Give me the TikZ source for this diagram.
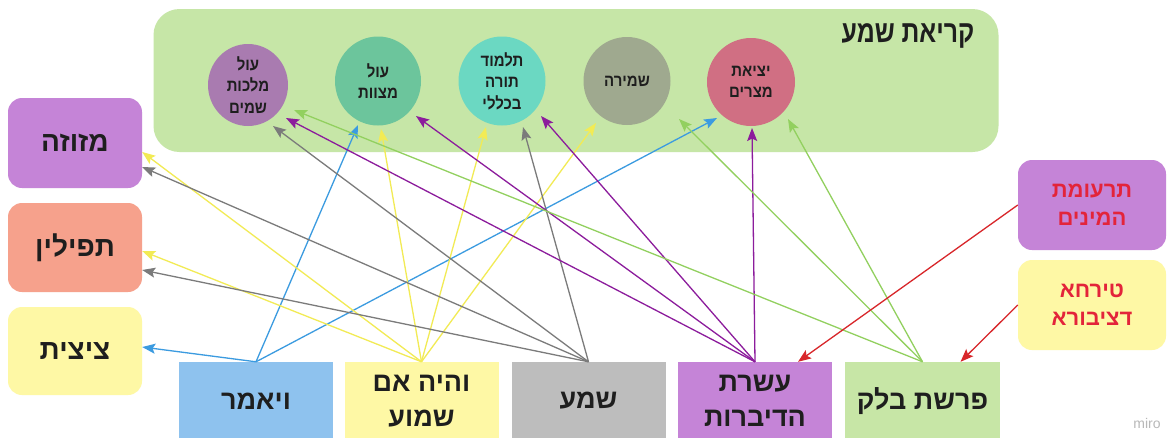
\documentclass[tikz,border=0pt]{standalone}
\usepackage{fontspec}
\usetikzlibrary{shapes.geometric,arrows.meta,calc}
\TeXXeTstate=1
\newfontfamily\hebfont[Script=Hebrew]{Liberation Sans}
\newfontfamily\hebnarrow[Script=Hebrew,FakeStretch=0.88]{Liberation Sans}
\newfontfamily\hebtitle[Script=Hebrew,FakeStretch=0.8]{Liberation Sans}
\setmainfont{Liberation Sans}
\newcommand{\heb}[1]{\beginR #1\endR}
\definecolor{contcol}{HTML}{C6E6A7}
\definecolor{cA}{HTML}{A97BB0}
\definecolor{cB}{HTML}{6CC59C}
\definecolor{cC}{HTML}{6BD8C2}
\definecolor{cD}{HTML}{9FA98F}
\definecolor{cE}{HTML}{D06F83}
\definecolor{lilac}{HTML}{C584D7}
\definecolor{salmon}{HTML}{F6A18C}
\definecolor{paleyel}{HTML}{FEF8A5}
\definecolor{skyb}{HTML}{8EC2EE}
\definecolor{greyb}{HTML}{BDBDBD}
\definecolor{greenb}{HTML}{C7E6A6}
\definecolor{txt}{HTML}{1E1E1E}
\definecolor{redtxt}{HTML}{E3243A}
\definecolor{aBlue}{HTML}{3B9BE0}
\definecolor{aYel}{HTML}{F2EB55}
\definecolor{aGray}{HTML}{7B7B7B}
\definecolor{aPur}{HTML}{8C1C9C}
\definecolor{aGreen}{HTML}{92D05F}
\definecolor{aRed}{HTML}{D8262A}
\definecolor{wm}{HTML}{B8B8B8}
\tikzset{
  circ/.style={ellipse, inner sep=0pt, text=txt, align=center,
    font=\hebnarrow\bfseries\fontsize{17}{21.5}\selectfont},
  sidebox/.style={rectangle, rounded corners=14pt, inner sep=0pt,
    minimum width=134pt, text=txt, font=\hebfont\bfseries\fontsize{28}{32}\selectfont},
  botbox/.style={rectangle, inner sep=0pt, minimum width=154pt, minimum height=78pt,
    text=txt, align=center, font=\hebfont\bfseries\fontsize{27}{35}\selectfont},
  rbox/.style={rectangle, rounded corners=14pt, inner sep=0pt, minimum width=148pt,
    minimum height=90pt, text=redtxt, align=center,
    font=\hebfont\bfseries\fontsize{22}{28}\selectfont},
  arr/.style={line width=1.3pt, -{Stealth[length=13pt,width=10pt,inset=2.5pt]}},
}
\begin{document}
\begin{tikzpicture}[x=1pt,y=-1pt]
\useasboundingbox (0,0) rectangle (1168,437);
\fill[white] (0,0) rectangle (1168,437);
% container
\node[rectangle, rounded corners=26pt, fill=contcol, minimum width=845pt, minimum height=143pt, inner sep=0pt] (ks) at (576,80.5) {};
\node[text=txt, font=\hebtitle\bfseries\fontsize{31}{34}\selectfont] (title) at (908,36) {\heb{קריאת שמע}};
% circles
\node[circ, fill=cA, minimum width=80pt, minimum height=82pt] (c1) at (248,85) {\heb{עול}\\\heb{מלכות}\\\heb{שמים}};
\node[circ, fill=cB, minimum width=86pt, minimum height=89pt] (c2) at (378,81) {\heb{עול}\\\heb{מצוות}};
\node[circ, fill=cC, minimum width=87pt, minimum height=89pt] (c3) at (502,81) {\heb{תלמוד}\\\heb{תורה}\\\heb{בכללי}};
\node[circ, fill=cD, minimum width=87pt, minimum height=88pt] (c4) at (627,81) {\heb{שמירה}};
\node[circ, fill=cE, minimum width=88pt, minimum height=88pt] (c5) at (751,82) {\heb{יציאת}\\\heb{מצרים}};
% left boxes
\node[sidebox, fill=lilac, minimum height=90pt] (mz) at (75,143) {\heb{מזוזה}};
\node[sidebox, fill=salmon, minimum height=89pt] (tf) at (75,247.5) {\heb{תפילין}};
\node[sidebox, fill=paleyel, minimum height=88pt] (tz) at (75,351) {\heb{ציצית}};
% bottom boxes
\node[botbox, fill=skyb] (V) at (256,401) {\heb{ויאמר}};
\node[botbox, fill=paleyel] (H) at (421.5,401) {\heb{והיה אם}\\\heb{שמוע}};
\node[botbox, fill=greyb] (S) at (588.5,401) {\heb{שמע}};
\node[botbox, fill=lilac] (A) at (755,401) {\heb{עשרת}\\\heb{הדיברות}};
\node[botbox, fill=greenb, minimum width=155pt] (B) at (922.5,401) {\heb{פרשת בלק}};
% right boxes
\node[rbox, fill=lilac] (R1) at (1092,205) {\heb{תרעומת}\\\heb{המינים}};
\node[rbox, fill=paleyel] (R2) at (1092,305) {\heb{טירחא}\\\heb{דציבורא}};
% watermark
\node[text=wm, font=\fontsize{14}{16}\selectfont] (miro) at (1147,423) {miro};
% arrows from ויאמר
\draw[arr, aBlue] (V.north) -- ($(tz.east)+(0,-4)$);
\draw[arr, aBlue] (V.north) -- ($(c2.center)+(-20,44)$);
\draw[arr, aBlue] (V.north) -- ($(c5.center)+(-34,36)$);
% arrows from והיה אם שמוע
\draw[arr, aYel] (H.north) -- ($(mz.east)+(0,9)$);
\draw[arr, aYel] (H.north) -- ($(tf.east)+(0,3.5)$);
\draw[arr, aYel] (H.north) -- ($(c2.center)+(3,48)$);
\draw[arr, aYel] (H.north) -- ($(c3.center)+(-16,46)$);
\draw[arr, aYel] (H.north) -- ($(c4.center)+(-31,42)$);
% arrows from שמע
\draw[arr, aGray] (S.north) -- ($(mz.east)+(0,24)$);
\draw[arr, aGray] (S.north) -- ($(tf.east)+(0,22.5)$);
\draw[arr, aGray] (S.north) -- ($(c1.center)+(25,41)$);
\draw[arr, aGray] (S.north) -- ($(c3.center)+(21,46)$);
% arrows from עשרת הדיברות
\draw[arr, aPur] (A.north) -- ($(c1.center)+(38,33)$);
\draw[arr, aPur] (A.north) -- ($(c2.center)+(38,35)$);
\draw[arr, aPur] (A.north) -- ($(c3.center)+(39,35)$);
\draw[arr, aPur] (A.north) -- ($(c5.center)+(1,46)$);
% arrows from פרשת בלק
\draw[arr, aGreen] (B.north) -- ($(c1.center)+(46,25)$);
\draw[arr, aGreen] (B.north) -- ($(c4.center)+(52,38)$);
\draw[arr, aGreen] (B.north) -- ($(c5.center)+(37,37)$);
% red arrows
\draw[arr, aRed] (R1.west) -- ($(A.north)+(43,0)$);
\draw[arr, aRed] (R2.west) -- ($(B.north)+(38,0)$);
\end{tikzpicture}
\end{document}
